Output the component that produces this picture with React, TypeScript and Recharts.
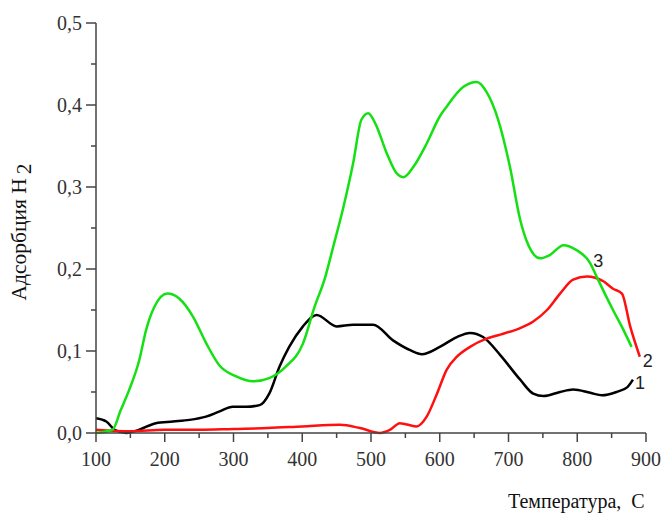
import React from 'react';
import { LineChart, Line, XAxis, YAxis, LabelList } from 'recharts';

// Curve 1 (black)
const temp1 = [100, 115, 127, 144, 163, 187, 212, 236, 260, 279, 299, 318, 338, 352, 367, 381, 401, 415, 421, 450, 474, 503, 532, 557, 574, 600, 625, 644, 663, 688, 717, 736, 751, 775, 794, 819, 836, 857, 873, 881];
const ads1 = [0.018, 0.014, 0.004, 0, 0.004, 0.012, 0.014, 0.016, 0.02, 0.026, 0.032, 0.032, 0.034, 0.048, 0.081, 0.105, 0.13, 0.142, 0.144, 0.13, 0.132, 0.132, 0.113, 0.101, 0.096, 0.105, 0.117, 0.122, 0.117, 0.095, 0.065, 0.048, 0.045, 0.05, 0.053, 0.049, 0.046, 0.05, 0.056, 0.065];

// Curve 2 (red)
const temp2 = [100, 150, 200, 250, 300, 350, 400, 455, 484, 513, 528, 542, 566, 581, 596, 610, 625, 644, 668, 688, 717, 736, 756, 775, 794, 814, 838, 852, 865, 877, 891];
const ads2 = [0.004, 0.002, 0.004, 0.004, 0.005, 0.006, 0.008, 0.01, 0.006, 0, 0.004, 0.012, 0.008, 0.02, 0.048, 0.077, 0.093, 0.105, 0.115, 0.12, 0.128, 0.136, 0.15, 0.17, 0.187, 0.191, 0.185, 0.176, 0.17, 0.13, 0.093];

// Curve 3 (green)
const temp3 = [100, 124, 136, 148, 163, 173, 185, 204, 221, 241, 260, 279, 304, 328, 352, 376, 401, 418, 433, 445, 460, 474, 486, 496, 506, 523, 537, 547, 562, 581, 600, 610, 634, 654, 668, 685, 702, 717, 726, 746, 760, 780, 799, 819, 828, 852, 867, 879];
const ads3 = [0, 0.004, 0.028, 0.052, 0.089, 0.126, 0.154, 0.17, 0.164, 0.142, 0.11, 0.083, 0.069, 0.063, 0.067, 0.081, 0.109, 0.154, 0.189, 0.227, 0.276, 0.329, 0.382, 0.39, 0.378, 0.341, 0.317, 0.312, 0.325, 0.353, 0.386, 0.398, 0.422, 0.428, 0.416, 0.382, 0.325, 0.26, 0.235, 0.213, 0.217, 0.229, 0.223, 0.207, 0.191, 0.15, 0.126, 0.105];

const xTicks = [100, 150, 200, 250, 300, 350, 400, 450, 500, 550, 600, 650, 700, 750, 800, 850, 900];
const yTicks = [0, 0.05, 0.1, 0.15, 0.2, 0.25, 0.3, 0.35, 0.4, 0.45, 0.5];

const toRows = (t: number[], v: number[]) => t.map((x, i) => ({ t: x, v: v[i] }));
const rows1 = toRows(temp1, ads1);
const rows2 = toRows(temp2, ads2);
const rows3 = toRows(temp3, ads3);

const AXIS = '#444';
const SERIF = '"Liberation Serif", "Times New Roman", serif';
const SANS = '"Liberation Sans", Arial, sans-serif';

const YTick = (props: any) => {
  const { x, y, payload } = props;
  const v = payload.value as number;
  const major = Math.round(v * 100) % 10 === 0;
  return (
    <g>
      <line x1={x - (major ? 10 : 5)} x2={x} y1={y} y2={y} stroke={AXIS} strokeWidth={1.5} />
      {major && (
        <text x={x - 14} y={y + 7} textAnchor="end" fontFamily={SERIF} fontSize={20} fill="#333">
          {v.toFixed(1).replace('.', ',')}
        </text>
      )}
    </g>
  );
};

const XTick = (props: any) => {
  const { x, y, payload } = props;
  const v = payload.value as number;
  const major = v % 100 === 0;
  return (
    <g>
      <line x1={x} x2={x} y1={y} y2={y + (major ? 9 : 5)} stroke={AXIS} strokeWidth={1.5} />
      {major && (
        <text x={x} y={y + 33} textAnchor="middle" fontFamily={SERIF} fontSize={20} fill="#333">
          {v}
        </text>
      )}
    </g>
  );
};

const endLabel = (text: string, at: number, dx: number, dy: number) => (props: any) => {
  if (props.index !== at) return null;
  return (
    <text x={props.x + dx} y={props.y + dy} fontFamily={SANS} fontSize={18} fill="#222">
      {text}
    </text>
  );
};

export default function App() {
  return (
    <div style={{ position: 'absolute', left: 0, top: 0, width: 662, height: 513, background: '#fff' }}>
      <LineChart width={662} height={513} margin={{ top: 23, right: 16, left: 0, bottom: 0 }}>
        <XAxis
          type="number"
          dataKey="t"
          domain={[100, 900]}
          ticks={xTicks}
          interval={0}
          height={80}
          stroke={AXIS}
          strokeWidth={1.5}
          tickLine={false}
          tickSize={0}
          tickMargin={0}
          tick={<XTick />}
          allowDuplicatedCategory={false}
        />
        <YAxis
          type="number"
          dataKey="v"
          domain={[0, 0.5]}
          ticks={yTicks}
          interval={0}
          width={96}
          stroke={AXIS}
          strokeWidth={1.5}
          tickLine={false}
          tickSize={0}
          tickMargin={0}
          tick={<YTick />}
        />
        <Line data={rows1} dataKey="v" type="monotone" stroke="#000" strokeWidth={2.5} dot={false} isAnimationActive={false}>
          <LabelList content={endLabel('1', rows1.length - 1, 2, 9)} />
        </Line>
        <Line data={rows2} dataKey="v" type="monotone" stroke="#ff1010" strokeWidth={2.5} dot={false} isAnimationActive={false}>
          <LabelList content={endLabel('2', rows2.length - 1, 3, 10)} />
        </Line>
        <Line data={rows3} dataKey="v" type="monotone" stroke="#14e014" strokeWidth={2.5} dot={false} isAnimationActive={false}>
          <LabelList content={endLabel('3', 43, 3, 4)} />
        </Line>
        <text transform="translate(26,232) rotate(-90)" textAnchor="middle" fontFamily={SERIF} fontSize={21.5} fill="#111">
          Адсорбция H<tspan dx={4} dy={5}>2</tspan>
        </text>
        <text x={508} y={508} fontFamily={SERIF} fontSize={20} fill="#111" style={{ whiteSpace: 'pre' }}>
          Температура,  С
        </text>
      </LineChart>
    </div>
  );
}
